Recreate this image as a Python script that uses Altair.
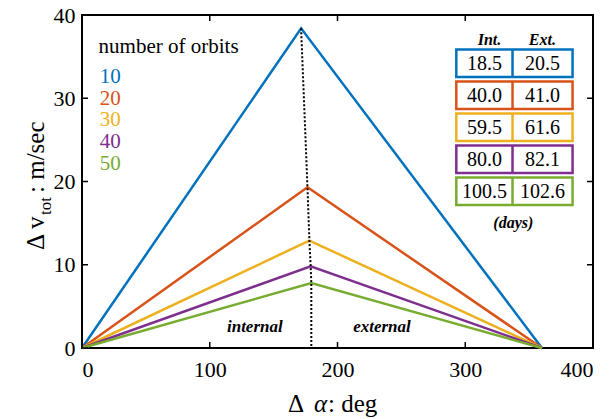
import altair as alt
import pandas as pd

# Delta-v versus phase angle for different numbers of orbits.
# Each curve rises linearly from 0 deg to its peak, then falls to 360 deg.
orbits = [10, 20, 30, 40, 50]
peak_alpha = [171.5, 176.5, 178.0, 179.0, 179.5]
peak_dv = [38.4, 19.3, 12.9, 9.8, 7.8]
alpha_start = 0
alpha_end = 360

# Transfer durations (days) for internal / external transfers
int_days = [18.5, 40.0, 59.5, 80.0, 100.5]
ext_days = [20.5, 41.0, 61.6, 82.1, 102.6]

colors = ["#0072BD", "#D95319", "#EDB120", "#7E2F8E", "#77AC30"]
x_ticks = [0, 100, 200, 300, 400]
y_ticks = [0, 10, 20, 30, 40]

W, H = 511, 333
SERIF = "Times New Roman, Liberation Serif, DejaVu Serif, serif"

# ---- line table ----
rows = []
for n, pa, pv, c in zip(orbits, peak_alpha, peak_dv, colors):
    rows.append({"orbits": n, "alpha": alpha_start, "dv": 0.0, "k": 0, "color": c})
    rows.append({"orbits": n, "alpha": pa, "dv": pv, "k": 1, "color": c})
    rows.append({"orbits": n, "alpha": alpha_end, "dv": 0.0, "k": 2, "color": c})
lines_df = pd.DataFrame(rows)

xs = alt.Scale(domain=[0, 400], nice=False, zero=False)
ys = alt.Scale(domain=[0, 40], nice=False, zero=False)

x_axis = alt.Axis(values=x_ticks, ticks=False, domain=False, grid=False, title=None,
                  labelFont=SERIF, labelFontSize=22, labelColor="black", labelPadding=11,
                  format="d")
y_axis = alt.Axis(values=y_ticks, ticks=False, domain=False, grid=False, title=None,
                  labelFont=SERIF, labelFontSize=22, labelColor="black", labelPadding=7,
                  format="d")

curves = alt.Chart(lines_df).mark_line(strokeWidth=2.5).encode(
    x=alt.X("alpha:Q", scale=xs, axis=x_axis),
    y=alt.Y("dv:Q", scale=ys, axis=y_axis),
    color=alt.Color("color:N", scale=None),
    detail="orbits:N",
    order="k:Q",
)

# dotted line through the peaks, dropping to the axis
peak_df = pd.DataFrame({
    "alpha": peak_alpha + [peak_alpha[-1]],
    "dv": peak_dv + [0.0],
    "k": list(range(len(peak_alpha) + 1)),
})
peak_line = alt.Chart(peak_df).mark_line(color="black", strokeWidth=2, strokeDash=[2, 2]).encode(
    x=alt.X("alpha:Q", scale=xs), y=alt.Y("dv:Q", scale=ys), order="k:Q"
)

# ---- inward ticks on all four sides ----
xt = pd.DataFrame({"v": x_ticks})
yt = pd.DataFrame({"v": y_ticks})
tick_style = dict(color="black", strokeWidth=1.5)
t_bottom = alt.Chart(xt).mark_rule(**tick_style).encode(
    x=alt.X("v:Q", scale=xs), y=alt.value(H), y2=alt.value(H - 6))
t_top = alt.Chart(xt).mark_rule(**tick_style).encode(
    x=alt.X("v:Q", scale=xs), y=alt.value(0), y2=alt.value(6))
t_left = alt.Chart(yt).mark_rule(**tick_style).encode(
    y=alt.Y("v:Q", scale=ys), x=alt.value(0), x2=alt.value(6))
t_right = alt.Chart(yt).mark_rule(**tick_style).encode(
    y=alt.Y("v:Q", scale=ys), x=alt.value(W), x2=alt.value(W - 6))

# ---- orbit-count legend ----
leg_df = pd.DataFrame({
    "label": [str(n) for n in orbits],
    "color": colors,
    "alpha": [13.8] * len(orbits),
    "dv": [31.85 - i * 2.62 for i in range(len(orbits))],
})
leg_title = alt.Chart(pd.DataFrame({"alpha": [13.0], "dv": [35.4], "t": ["number of orbits"]})).mark_text(
    font=SERIF, fontSize=21, align="left", baseline="alphabetic", color="black"
).encode(x=alt.X("alpha:Q", scale=xs), y=alt.Y("dv:Q", scale=ys), text="t:N")
leg_nums = alt.Chart(leg_df).mark_text(
    font=SERIF, fontSize=21, align="left", baseline="alphabetic"
).encode(x=alt.X("alpha:Q", scale=xs), y=alt.Y("dv:Q", scale=ys), text="label:N",
         color=alt.Color("color:N", scale=None))

# ---- transfer-time table ----
box_x1, box_x2, box_mid = 293.0, 384.0, 337.0
row_c0, row_step, row_half = 34.2, 3.84, 1.65
tab_df = pd.DataFrame({
    "int": [f"{v:.1f}" for v in int_days],
    "ext": [f"{v:.1f}" for v in ext_days],
    "color": colors,
})
tab_df["yc"] = [row_c0 - i * row_step for i in range(len(tab_df))]
tab_df["y1"] = tab_df["yc"] + row_half
tab_df["y2"] = tab_df["yc"] - row_half
tab_df["x1"] = box_x1
tab_df["x2"] = box_x2
tab_df["xm"] = box_mid
tab_df["xi"] = (box_x1 + box_mid) / 2
tab_df["xe"] = (box_mid + box_x2) / 2

boxes = alt.Chart(tab_df).mark_rect(fill="white", strokeWidth=2.5).encode(
    x=alt.X("x1:Q", scale=xs), x2="x2:Q", y=alt.Y("y1:Q", scale=ys), y2="y2:Q",
    stroke=alt.Color("color:N", scale=None))
dividers = alt.Chart(tab_df).mark_rule(strokeWidth=2.5).encode(
    x=alt.X("xm:Q", scale=xs), y=alt.Y("y1:Q", scale=ys), y2="y2:Q",
    color=alt.Color("color:N", scale=None))
cell_style = dict(font=SERIF, fontSize=20, color="black", align="center", baseline="middle", dy=1)
int_txt = alt.Chart(tab_df).mark_text(**cell_style).encode(
    x=alt.X("xi:Q", scale=xs), y=alt.Y("yc:Q", scale=ys), text="int:N")
ext_txt = alt.Chart(tab_df).mark_text(**cell_style).encode(
    x=alt.X("xe:Q", scale=xs), y=alt.Y("yc:Q", scale=ys), text="ext:N")

notes_df = pd.DataFrame({
    "alpha": [319.0, 360.4, 337.6, 135.3, 234.8],
    "dv": [37.0, 37.0, 15.0, 2.5, 2.5],
    "t": ["Int.", "Ext.", "(days)", "internal", "external"],
    "size": [16, 16, 16, 17, 17],
})
notes = alt.Chart(notes_df).mark_text(
    font=SERIF, fontStyle="italic", fontWeight="bold", color="black",
    align="center", baseline="middle"
).encode(x=alt.X("alpha:Q", scale=xs), y=alt.Y("dv:Q", scale=ys), text="t:N",
         size=alt.Size("size:Q", scale=None, legend=None))

# ---- axis titles (with subscript and Greek letter) ----
one = pd.DataFrame({"k": [0]})

def label(text, x, y, size=24, angle=0, align="left", style="normal"):
    return alt.Chart(one).mark_text(
        text=text, font=SERIF, fontSize=size, angle=angle, align=align,
        baseline="alphabetic", color="black", fontStyle=style
    ).encode(x=alt.value(x), y=alt.value(y))

xt_delta = label("Δ", 206, 397, size=25, align="left")
xt_alpha = label("α", 232, 397, size=25, style="italic")
xt_rest = label(": deg", 246, 397, size=25)

yt_main = label("Δ v", -38, 235, size=25, angle=270)
yt_sub = label("tot", -31, 200, size=17, angle=270)
yt_rest = label(" : m/sec", -38, 178, size=25, angle=270)

chart = alt.layer(
    curves, peak_line, t_bottom, t_top, t_left, t_right,
    leg_title, leg_nums, boxes, dividers, int_txt, ext_txt, notes,
    xt_delta, xt_alpha, xt_rest, yt_main, yt_sub, yt_rest,
).properties(
    width=W, height=H,
    autosize=alt.AutoSizeParams(type="none"),
    padding={"left": 82, "top": 15, "right": 19, "bottom": 71},
    background="white",
).configure_view(stroke="black", strokeWidth=2)

chart.save("out.html", embed_options={"renderer": "svg", "actions": False})
